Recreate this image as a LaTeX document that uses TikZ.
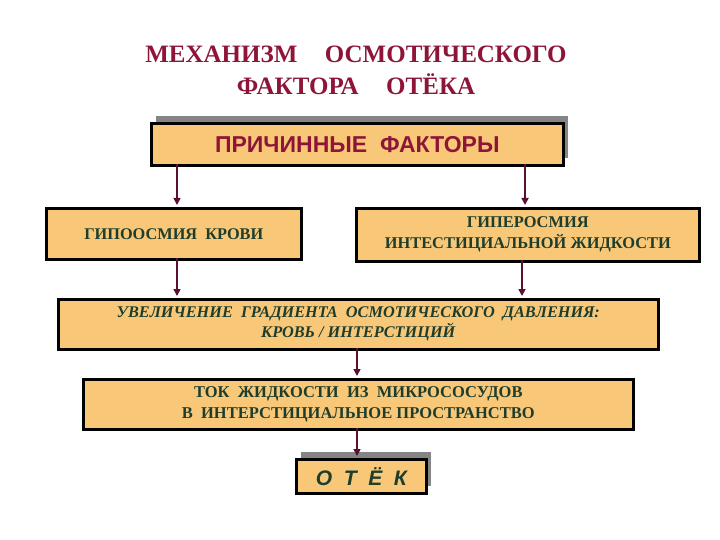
\documentclass[tikz,border=0pt]{standalone}
\usepackage{fontspec}
\setmainfont{Liberation Serif}
\newfontfamily\boxsans{Liberation Sans}
\usetikzlibrary{arrows.meta}
\definecolor{boxfill}{HTML}{F8C878}
\definecolor{titlered}{HTML}{8E1538}
\definecolor{textgreen}{HTML}{1E3D2C}
\definecolor{arrowred}{HTML}{5A1030}
\definecolor{shadowgrey}{HTML}{858585}
\tikzset{
  flowbox/.style={draw=black, line width=2.6pt, fill=boxfill, inner sep=0pt, anchor=north west},
  boxtext/.style={text=textgreen, align=center},
  flowarrow/.style={draw=arrowred, line width=1.6pt, -{Triangle[length=7pt,width=7pt]}, shorten >=1pt},
}
\begin{document}
\begin{tikzpicture}[x=1pt,y=-1pt]
\useasboundingbox (0,0) rectangle (720,540);
% title
\node[text=titlered, font=\fontsize{25}{32}\selectfont\bfseries, align=center] (title) at (356,70)
  {МЕХАНИЗМ\hspace{1.1em}ОСМОТИЧЕСКОГО\\ФАКТОРА\hspace{1.1em}ОТЁКА};
% box 1 with shadow
\path[fill=shadowgrey] (156,116) rectangle (568,158);
\node[flowbox, minimum width=412pt, minimum height=42pt] (causes) at (150,122) {};
\node[text=titlered, font=\boxsans\fontsize{23}{26}\selectfont\bfseries] (causestext) at (causes.center) {ПРИЧИННЫЕ\ \ ФАКТОРЫ};
% box 2 left
\node[flowbox, minimum width=255pt, minimum height=51pt] (hypo) at (45,207) {};
\node[boxtext, font=\fontsize{16.3}{20}\selectfont\bfseries] (hypotext) at (hypo.center) {ГИПООСМИЯ\ \ КРОВИ};
% box 2 right
\node[flowbox, minimum width=343pt, minimum height=53pt] (hyper) at (355,207) {};
\node[boxtext, font=\fontsize{16.4}{21}\selectfont\bfseries] (hypertext) at (hyper.center) {ГИПЕРОСМИЯ\\ИНТЕСТИЦИАЛЬНОЙ ЖИДКОСТИ};
% box 3
\node[flowbox, minimum width=600pt, minimum height=50pt] (grad) at (57,298) {};
\node[boxtext, font=\fontsize{16.3}{20}\selectfont\bfseries\itshape] (gradtext) at (grad.center) {УВЕЛИЧЕНИЕ\ \ ГРАДИЕНТА\ \ ОСМОТИЧЕСКОГО\ \ ДАВЛЕНИЯ:\\КРОВЬ / ИНТЕРСТИЦИЙ};
% box 4
\node[flowbox, minimum width=550pt, minimum height=50pt] (flow) at (82,378) {};
\node[boxtext, font=\fontsize{16.5}{21}\selectfont\bfseries] (flowtext) at (flow.center) {ТОК\ \ ЖИДКОСТИ\ \ ИЗ\ \ МИКРОСОСУДОВ\\В\ \ ИНТЕРСТИЦИАЛЬНОЕ ПРОСТРАНСТВО};
% box 5 with shadow
\path[fill=shadowgrey] (301,452) rectangle (431,486);
\node[flowbox, minimum width=130pt, minimum height=34pt] (edema) at (295,458) {};
\node[text=textgreen, font=\boxsans\fontsize{21}{24}\selectfont\bfseries\itshape] (edematext) at (edema.center) {О\;\ Т\;\ Ё\;\ К};
% connectors
\coordinate (a1s) at (177,164); \coordinate (a1e) at (177,206);
\coordinate (a2s) at (525,164); \coordinate (a2e) at (525,206);
\coordinate (a3s) at (177,258); \coordinate (a3e) at (177,297);
\coordinate (a4s) at (522,260); \coordinate (a4e) at (522,297);
\coordinate (a5s) at (357,348); \coordinate (a5e) at (357,377);
\coordinate (a6s) at (357,428); \coordinate (a6e) at (357,457);
\draw[flowarrow] (a1s) -- (a1e);
\draw[flowarrow] (a2s) -- (a2e);
\draw[flowarrow] (a3s) -- (a3e);
\draw[flowarrow] (a4s) -- (a4e);
\draw[flowarrow] (a5s) -- (a5e);
\draw[flowarrow] (a6s) -- (a6e);
\end{tikzpicture}
\end{document}
